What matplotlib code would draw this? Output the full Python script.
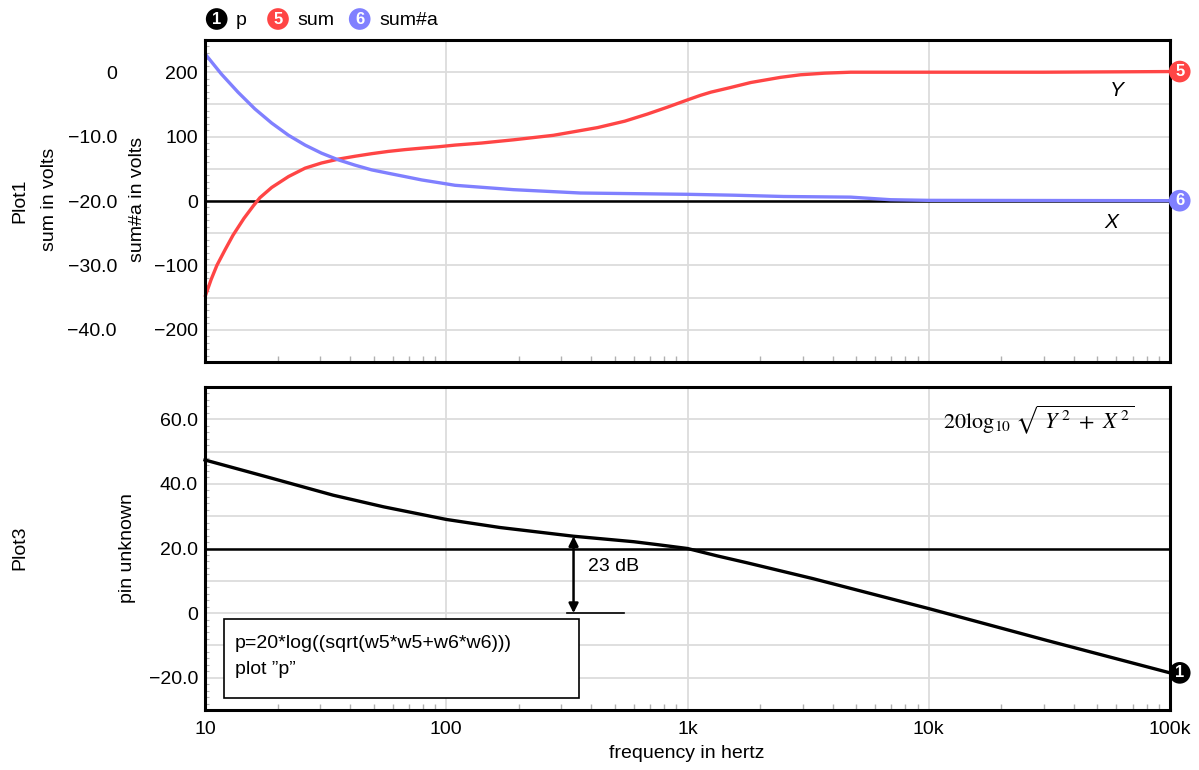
import matplotlib
matplotlib.use('Agg')
import matplotlib.pyplot as plt
from matplotlib.ticker import FixedLocator, FuncFormatter, LogLocator, MultipleLocator, NullFormatter
from matplotlib.patches import Rectangle

plt.rcParams['font.family'] = ['Liberation Sans', 'DejaVu Sans']
plt.rcParams['mathtext.fontset'] = 'stix'
plt.rcParams['axes.unicode_minus'] = True

# ---------------- data ----------------
freq_sum = [10, 10.6, 11.2, 12.1, 13.07, 14.5, 15.9, 16.9, 18.9, 22.2, 26.0, 30.4,
            35.7, 41.9, 49.1, 57.5, 67.5, 79.1, 92.7, 108.7, 140, 190, 278, 424,
            550, 682, 830, 1000, 1130, 1250, 1500, 1830, 2430, 2940, 3700, 4750,
            7000, 10000, 30000, 100000]
sum_vals = [-149, -122, -100, -76, -53, -27, -7, 5.2, 21, 38, 51, 59,
            65, 69.5, 73.5, 77, 79.8, 82.1, 84.2, 86.8, 90, 95, 102, 114,
            124, 135, 146, 157, 164, 169, 176, 184, 192, 196, 198.5, 200,
            200, 200, 200, 201]

freq_suma = [10, 11.7, 13.7, 16.1, 18.9, 22.2, 26.0, 30.4, 35.7, 41.9, 49.1, 57.5,
             67.5, 79.1, 92.7, 108.7, 190, 360, 1000, 1560, 2500, 4750, 6950,
             10000, 100000]
suma_vals = [228.6, 197, 169, 143, 121, 102, 86.8, 74.3, 63.9, 55.6, 48.3, 43.1,
             37.9, 32.7, 28.6, 24.4, 17.6, 12.4, 10.4, 9, 7, 6, 2,
             1, 0.5]

freq_p = [10, 18, 34, 55, 100, 167, 337, 599, 750, 1000, 1330, 1760, 3300,
          10000, 31000, 100000]
p_vals = [47.4, 42.2, 36.5, 32.9, 29, 26.5, 23.8, 22.1, 21.2, 20, 17.7, 15.6, 10.7,
          1.4, -8.5, -18.5]

x_ticks = [10, 100, 1000, 10000, 100000]
x_ticklabels = ['10', '100', '1k', '10k', '100k']
top_ticks = [-200, -100, 0, 100, 200]
outer_ticks = [0, -10, -20, -30, -40]
bottom_ticks = [-20, 0, 20, 40, 60]

marker_freq = 337        # frequency of the 23 dB arrow
marker_level = 23.8      # curve level at the arrow
ref_level = 20           # reference line in Plot3

RED = '#ff4545'
BLUE = '#8080ff'
GRID = '#dcdcdc'

W, H = 1199, 770
fig = plt.figure(figsize=(W / 100, H / 100), dpi=100)


def fx(px):
    return px / W


def fy(py):
    return 1 - py / H


ax1 = fig.add_axes([fx(205), fy(362), 965 / W, 322 / H])
ax2 = fig.add_axes([fx(205), fy(710), 965 / W, 323 / H])


def minus(s):
    return s.replace('-', '\u2212')


for ax in (ax1, ax2):
    ax.set_xscale('log')
    ax.set_xlim(10, 100000)
    ax.xaxis.set_major_locator(FixedLocator(x_ticks))
    ax.xaxis.set_minor_locator(LogLocator(base=10, subs=range(2, 10)))
    ax.xaxis.set_minor_formatter(NullFormatter())
    ax.tick_params(axis='x', which='major', length=0, labelsize=14, pad=8)
    ax.tick_params(axis='x', which='minor', direction='in', length=4,
                   width=1, color='#b0b0b0')
    ax.tick_params(axis='y', which='major', length=0, labelsize=14, pad=5)
    ax.tick_params(axis='y', which='minor', direction='in', length=3,
                   width=0.8, color='#b0b0b0')
    ax.grid(True, which='major', color=GRID, lw=1.3, zorder=0)
    for sp in ax.spines.values():
        sp.set_linewidth(2.2)
        sp.set_zorder(5)

# ---------------- Plot1 ----------------
ax1.set_ylim(-250, 250)
ax1.yaxis.set_major_locator(MultipleLocator(50))
ax1.yaxis.set_minor_locator(MultipleLocator(10))
ax1.yaxis.set_major_formatter(FuncFormatter(
    lambda v, p: minus(f'{int(round(v))}') if int(round(v)) in top_ticks else ''))
ax1.set_xticklabels([])
ax1.axhline(0, color='black', lw=1.8, zorder=2)
ax1.plot(freq_sum, sum_vals, color=RED, lw=2.4, zorder=3, clip_on=False,
         solid_capstyle='butt', solid_joinstyle='round')
ax1.plot(freq_suma, suma_vals, color=BLUE, lw=2.4, zorder=3, clip_on=False,
         solid_capstyle='butt', solid_joinstyle='round')

sec = ax1.secondary_yaxis(-0.084, functions=(lambda y: y / 10 - 20,
                                             lambda s: (s + 20) * 10))
sec.set_yticks(outer_ticks)
sec.set_yticklabels(['0' if v == 0 else minus(f'{v:.1f}') for v in outer_ticks])
sec.tick_params(length=0, labelsize=14, pad=5)
sec.spines['left'].set_visible(False)

ax1.text(60000, 172, 'Y', style='italic', fontsize=15, ha='center', va='center')
ax1.text(57000, -33, 'X', style='italic', fontsize=15, ha='center', va='center')

end_kw = dict(textcoords='offset points', ha='center', va='center', color='white',
              fontsize=12, fontweight='bold', annotation_clip=False, zorder=10)
ax1.annotate('5', xy=(freq_sum[-1], sum_vals[-1]), xytext=(7, 0),
             bbox=dict(boxstyle='circle,pad=0.2', fc=RED, ec='none'), **end_kw)
ax1.annotate('6', xy=(freq_suma[-1], suma_vals[-1]), xytext=(7, 0),
             bbox=dict(boxstyle='circle,pad=0.2', fc=BLUE, ec='none'), **end_kw)

# ---------------- Plot3 ----------------
ax2.set_ylim(-30, 70)
ax2.yaxis.set_major_locator(MultipleLocator(10))
ax2.yaxis.set_minor_locator(MultipleLocator(2))
ax2.yaxis.set_major_formatter(FuncFormatter(
    lambda v, p: ('0' if int(round(v)) == 0 else minus(f'{v:.1f}'))
    if int(round(v)) in bottom_ticks else ''))
ax2.set_xticklabels(x_ticklabels)
ax2.axhline(ref_level, color='black', lw=1.8, zorder=2)
ax2.plot(freq_p, p_vals, color='black', lw=2.4, zorder=3, clip_on=False,
         solid_joinstyle='round')
ax2.annotate('1', xy=(freq_p[-1], p_vals[-1]), xytext=(7, 0),
             bbox=dict(boxstyle='circle,pad=0.2', fc='black', ec='none'), **end_kw)

# 23 dB arrow
ax2.annotate('', xy=(marker_freq, marker_level), xytext=(marker_freq, 0),
             arrowprops=dict(arrowstyle='<|-|>', color='black', lw=1.8,
                             mutation_scale=14, shrinkA=0, shrinkB=0), zorder=4)
ax2.plot([317, 544], [0, 0], color='black', lw=1.2, zorder=4)
ax2.text(388, 14.4, '23 dB', fontsize=14, ha='left', va='center')

# formula
ax2.text(11500, 60, r'$\mathrm{20log}_{10}\ \sqrt{\ Y^{\,2}\ +\ X^{\,2}}$',
         fontsize=16, ha='left', va='center')

# note box
ax2.add_patch(Rectangle((0.0197, 0.037), 0.368, 0.245, transform=ax2.transAxes,
                        fc='white', ec='black', lw=1.2, zorder=6))
ax2.text(0.031, 0.205, 'p=20*log((sqrt(w5*w5+w6*w6)))', transform=ax2.transAxes,
         fontsize=14, ha='left', va='center', zorder=7)
ax2.text(0.031, 0.125, 'plot \u201dp\u201d', transform=ax2.transAxes,
         fontsize=14, ha='left', va='center', zorder=7)

# ---------------- labels ----------------
fig.text(fx(20), fy(201), 'Plot1', rotation=90, ha='center', va='center', fontsize=14)
fig.text(fx(50), fy(199), 'sum in volts', rotation=90, ha='center', va='center', fontsize=14)
fig.text(fx(138), fy(199), 'sum#a in volts', rotation=90, ha='center', va='center', fontsize=14)
fig.text(fx(20), fy(548), 'Plot3', rotation=90, ha='center', va='center', fontsize=14)
fig.text(fx(128), fy(548), 'pin unknown', rotation=90, ha='center', va='center', fontsize=14)
fig.text(fx(687), fy(753), 'frequency in hertz', ha='center', va='center', fontsize=14)

# ---------------- legend ----------------
leg_items = [('1', 'p', 'black', 216.7, 236), ('5', 'sum', RED, 278, 297.7),
             ('6', 'sum#a', BLUE, 359.7, 379)]
for num, name, col, cx, tx in leg_items:
    fig.text(fx(cx), fy(19), num, ha='center', va='center', color='white',
             fontsize=12, fontweight='bold',
             bbox=dict(boxstyle='circle,pad=0.2', fc=col, ec='none'))
    fig.text(fx(tx), fy(25), name, ha='left', va='baseline', fontsize=14)

fig.savefig('out.png', dpi=100)
